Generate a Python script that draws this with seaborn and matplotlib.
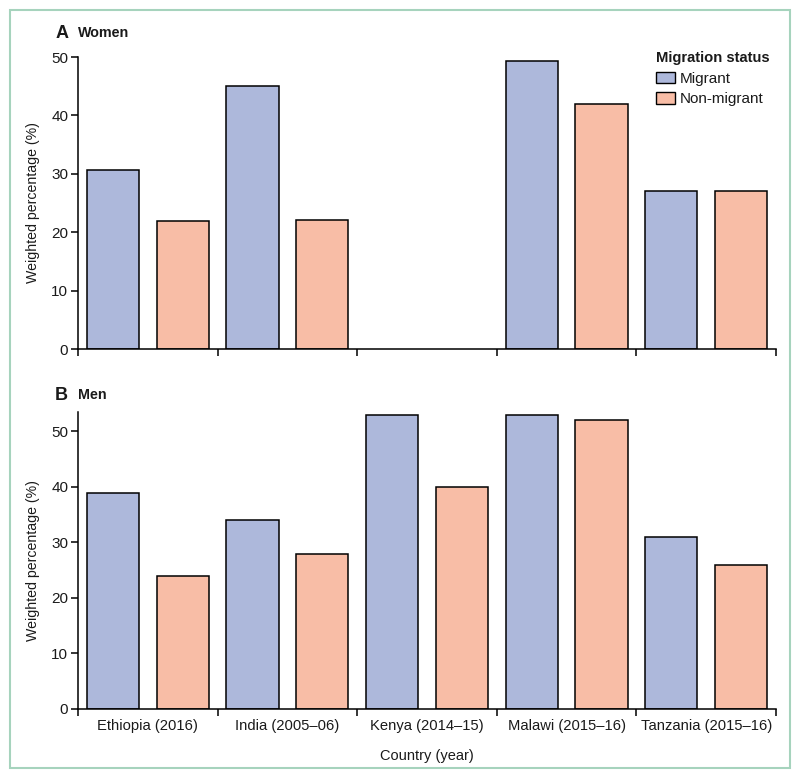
import matplotlib
matplotlib.use("Agg")
import matplotlib.pyplot as plt
import matplotlib.patches as mpatches
import seaborn as sns
import pandas as pd
import numpy as np

sns.set_theme(style="ticks")
plt.rcParams["font.family"] = ["Liberation Sans", "DejaVu Sans"]
plt.rcParams["text.color"] = "#1a1a1a"
plt.rcParams["axes.labelcolor"] = "#1a1a1a"
plt.rcParams["xtick.labelcolor"] = "#1a1a1a"
plt.rcParams["ytick.labelcolor"] = "#1a1a1a"

# data
countries = ["Ethiopia (2016)", "India (2005\u201306)", "Kenya (2014\u201315)",
             "Malawi (2015\u201316)", "Tanzania (2015\u201316)"]
statuses = ["Migrant", "Non-migrant"]
women_migrant = [30.6, 45.0, np.nan, 49.3, 27.0]
women_nonmigrant = [21.9, 22.1, np.nan, 41.9, 27.0]
men_migrant = [39.0, 34.0, 53.0, 53.0, 31.0]
men_nonmigrant = [24.0, 28.0, 40.0, 52.1, 26.0]

colors = {"Migrant": "#adb8db", "Non-migrant": "#f8bda6"}


def long_df(mig, non):
    df = pd.DataFrame({
        "country": countries * 2,
        "status": ["Migrant"] * len(countries) + ["Non-migrant"] * len(countries),
        "value": list(mig) + list(non),
    })
    return df.dropna()


women = long_df(women_migrant, women_nonmigrant)
men = long_df(men_migrant, men_nonmigrant)

fig = plt.figure(figsize=(8, 7.78), dpi=100)
ax_a = fig.add_axes([0.0975, 0.5514, 0.8725, 0.3753])
ax_b = fig.add_axes([0.0975, 0.0887, 0.8725, 0.3817])


def draw(ax, df, ymax, show_labels):
    sns.barplot(data=df, x="country", y="value", hue="status", order=countries,
                hue_order=statuses, palette=colors, saturation=1, width=1.0, gap=0.25,
                edgecolor="black", linewidth=1.1, errorbar=None, ax=ax, legend=False)
    ax.set_xlim(-0.5, len(countries) - 0.5)
    ax.set_ylim(0, ymax)
    ax.set_yticks([0, 10, 20, 30, 40, 50])
    sns.despine(ax=ax)
    for s in ["left", "bottom"]:
        ax.spines[s].set_color("black")
        ax.spines[s].set_linewidth(1.1)
    ax.set_xticks(np.arange(-0.5, len(countries)), minor=True)
    ax.tick_params(axis="x", which="major", length=0, pad=7, labelsize=10.6)
    ax.tick_params(axis="x", which="minor", length=5, width=1.1, color="black")
    ax.tick_params(axis="y", length=5, width=1.1, color="black", labelsize=11, pad=2)
    ax.set_ylabel("Weighted percentage (%)", fontsize=10.2, labelpad=8)
    if show_labels:
        ax.set_xlabel("Country (year)", fontsize=10.5, labelpad=12)
    else:
        ax.set_xticklabels([])
        ax.set_xlabel("")


draw(ax_a, women, 50, False)
draw(ax_b, men, 53.5, True)

# legend in panel A
handles = [mpatches.Patch(facecolor=colors[s], edgecolor="black", linewidth=1.0, label=s)
           for s in statuses]
leg = ax_a.legend(handles=handles, title="Migration status", loc="upper right",
                  bbox_to_anchor=(1.0, 1.04), frameon=False, fontsize=11,
                  title_fontproperties={"weight": "bold", "size": 10.6},
                  handlelength=1.2, handleheight=0.8, handletextpad=0.35,
                  labelspacing=0.4, borderaxespad=0)
leg._legend_box.align = "left"

# panel titles
fig.text(0.069, 0.957, "A", fontsize=13, fontweight="bold", va="center")
fig.text(0.098, 0.957, "Women", fontsize=10.3, fontweight="bold", va="center")
fig.text(0.069, 0.492, "B", fontsize=13, fontweight="bold", va="center")
fig.text(0.098, 0.492, "Men", fontsize=10.3, fontweight="bold", va="center")

# outer frame
fig.patches.append(mpatches.Rectangle((0.0125, 0.0129), 0.975, 0.9743,
                                      transform=fig.transFigure, fill=False,
                                      edgecolor="#a6d3bd", linewidth=1.5))

fig.savefig("out.png", dpi=100)
